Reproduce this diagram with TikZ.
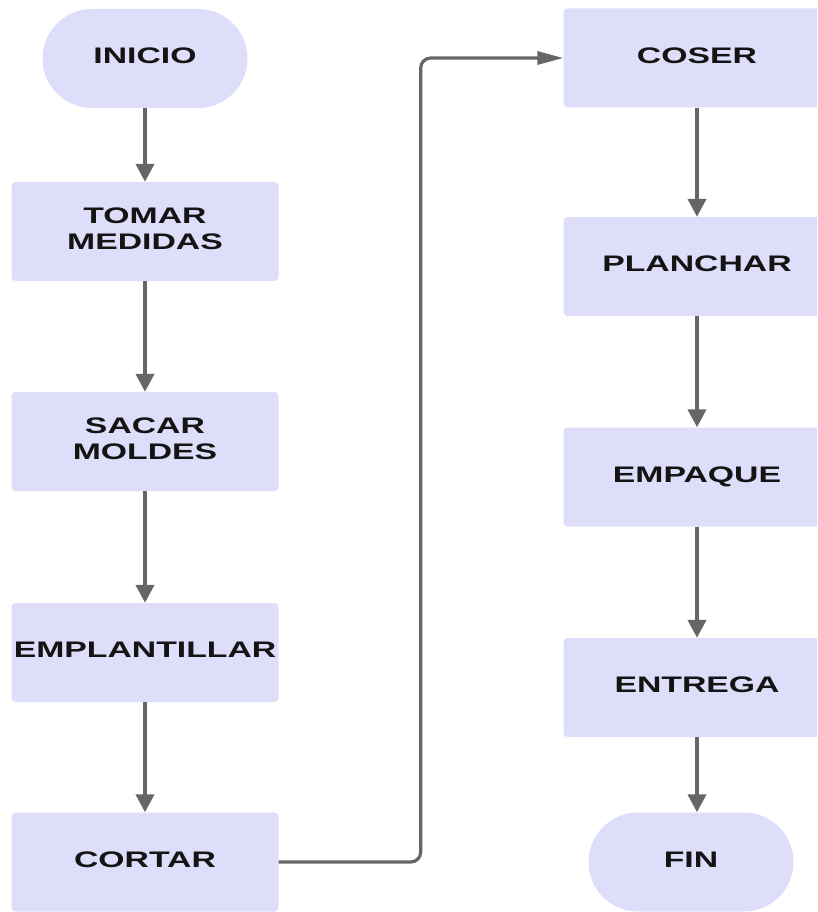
\documentclass[tikz,border=0pt]{standalone}
\usepackage{fontspec}
\setmainfont{Liberation Sans}
\usetikzlibrary{arrows.meta}
\definecolor{boxfill}{RGB}{222,222,250}
\definecolor{linegray}{RGB}{102,102,102}
\definecolor{txtcol}{RGB}{20,20,20}
\newcommand{\lbl}[1]{\raisebox{2.5pt}{\scalebox{1.5}[1]{\begin{tabular}{@{}c@{}}#1\end{tabular}}}}
\begin{document}
\begin{tikzpicture}[x=1pt,y=-1pt,
  box/.style={rectangle, rounded corners=4pt, fill=boxfill, minimum width=267pt, minimum height=99pt, inner sep=0pt, text=txtcol, font=\fontsize{22.5pt}{26pt}\selectfont\bfseries},
  term/.style={box, rounded corners=49.5pt, minimum width=205pt},
  vflow/.style={draw=linegray, line width=4pt, -{Triangle[length=18pt,width=18pt]}},
  hflow/.style={draw=linegray, line width=3.2pt, rounded corners=10pt, -{Triangle[length=26pt,width=13pt]}}]
\clip (0,0) rectangle (817,912);
\fill[white] (0,0) rectangle (817,912);
% left column
\node[term] (inicio) at (145,58.5) {\lbl{INICIO}};
\node[box] (tomar) at (145,231.5) {\lbl{TOMAR\\MEDIDAS}};
\node[box] (sacar) at (145,441.5) {\lbl{SACAR\\MOLDES}};
\node[box] (empl) at (145,652.5) {\lbl{EMPLANTILLAR}};
\node[box] (cortar) at (145,862) {\lbl{CORTAR}};
% right column
\node[box] (coser) at (697,58) {\lbl{COSER}};
\node[box] (planchar) at (697,266.5) {\lbl{PLANCHAR}};
\node[box] (empaque) at (697,477) {\lbl{EMPAQUE}};
\node[box] (entrega) at (697,687.5) {\lbl{ENTREGA}};
\node[term] (fin) at (691,862) {\lbl{FIN}};
% connectors
\draw[vflow] (inicio) -- (tomar);
\draw[vflow] (tomar) -- (sacar);
\draw[vflow] (sacar) -- (empl);
\draw[vflow] (empl) -- (cortar);
\draw[hflow] (cortar.east) -- ++(142,0) |- (coser.west);
\draw[vflow] (coser) -- (planchar);
\draw[vflow] (planchar) -- (empaque);
\draw[vflow] (empaque) -- (entrega);
\draw[vflow] (entrega.south) -- (entrega.south |- fin.north);
\end{tikzpicture}
\end{document}
